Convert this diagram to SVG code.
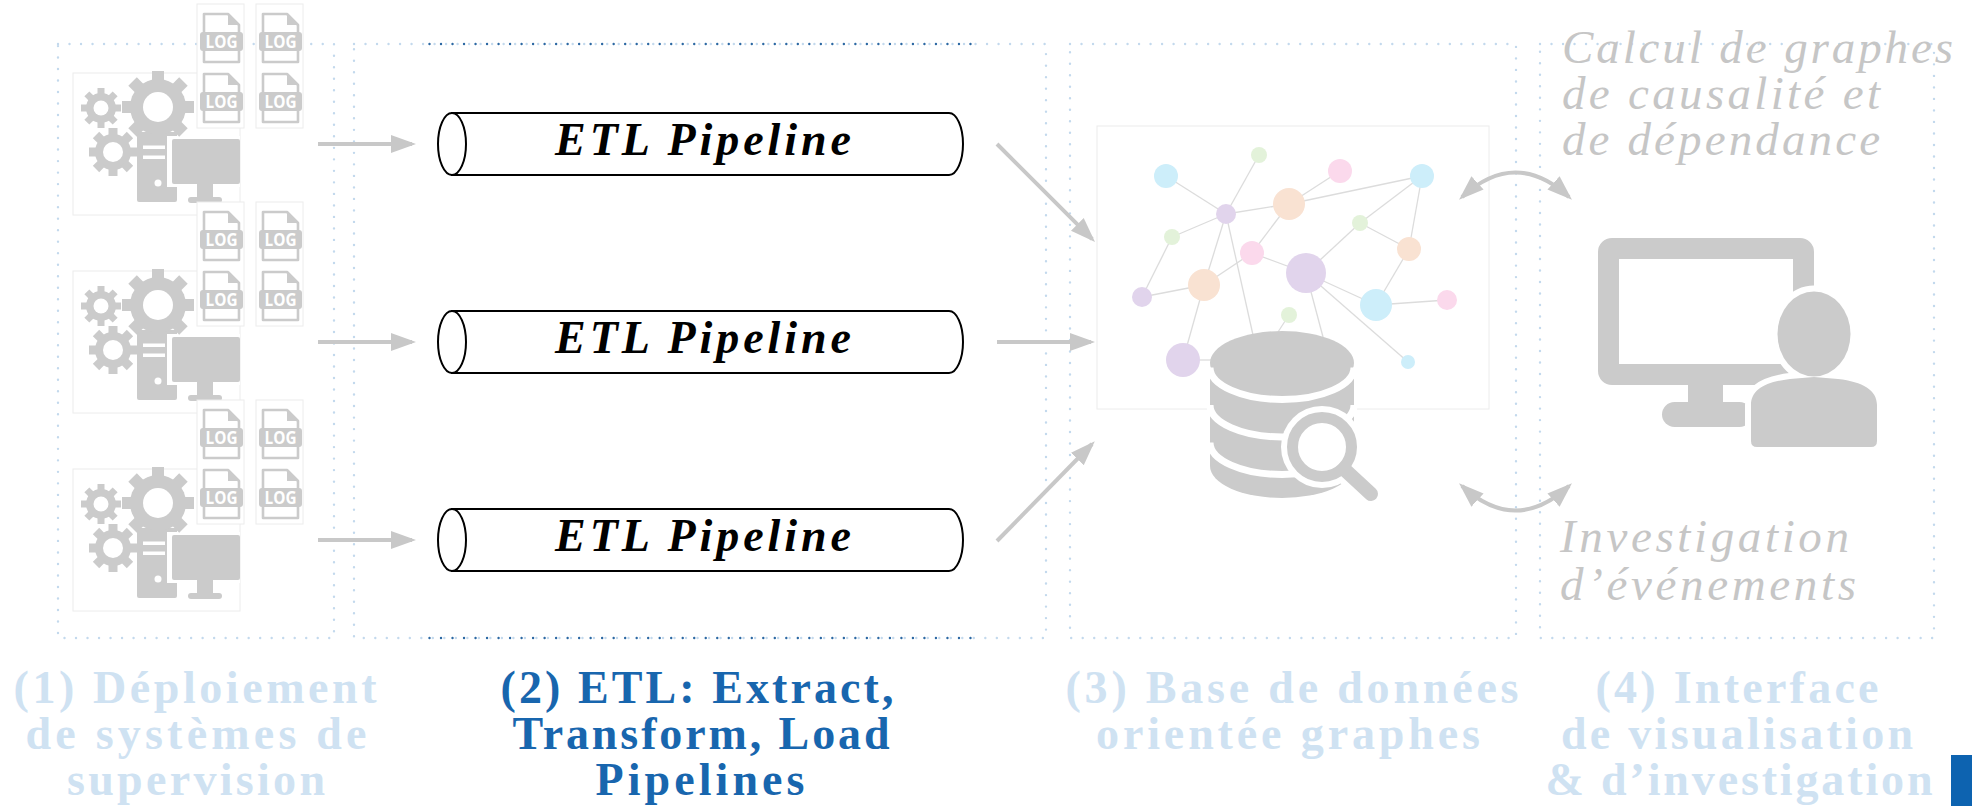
<svg xmlns="http://www.w3.org/2000/svg" xmlns:xlink="http://www.w3.org/1999/xlink" width="1972" height="806" viewBox="0 0 1972 806">
  <defs>
    <style>
      .frame{fill:none;stroke:#c3d9ed;stroke-width:2.4;stroke-dasharray:0.01 11.5;stroke-linecap:round}
      .frame-hi{fill:none;stroke:#2c68a3;stroke-width:2.4;stroke-dasharray:0.01 11.5;stroke-linecap:round}
      .imgbox{fill:#fff;stroke:#ececec;stroke-width:1}
      .ico{fill:#cbcbcb}
      .hole{fill:#fff}
      .arrow{fill:none;stroke:#c8c8c8;stroke-width:4}
      .pipe{fill:#fff;stroke:#000;stroke-width:2}
      .pipe-label{font-family:"Liberation Serif",serif;font-weight:bold;font-style:italic;font-size:46px;text-anchor:middle;fill:#000}
      .step{font-family:"Liberation Serif",serif;font-weight:bold;font-size:46px;text-anchor:middle;fill:#cfe2f2}
      .step.active{fill:#1866ae}
      .note{font-family:"Liberation Serif",serif;font-style:italic;font-size:47px;fill:#c6c6c6}
      .logtxt{font-family:"Open Sans",sans-serif;font-weight:bold;font-size:17px;fill:#fff;text-anchor:middle}
      .edge{stroke:#dcdcdc;stroke-width:1.3}
      .blue{fill:#cdeefa}.green{fill:#e3f2da}.pink{fill:#fbd9ec}.orange{fill:#f9e2d2}.purple{fill:#e1d4ec}
    </style>

    <marker id="head" markerUnits="userSpaceOnUse" viewBox="0 0 25 20" markerWidth="25" markerHeight="20" refX="21" refY="10" orient="auto-start-reverse">
      <path d="M0,1 L25,10 L0,19 Z" fill="#c8c8c8"/>
    </marker>

    <!-- gear shapes, centred on the origin -->
    <g id="gear-l" class="ico">
      <circle r="28"/>
      <rect x="-6" y="-36" width="12" height="12"/>
      <rect x="-6" y="-36" width="12" height="12" transform="rotate(45)"/>
      <rect x="-6" y="-36" width="12" height="12" transform="rotate(90)"/>
      <rect x="-6" y="-36" width="12" height="12" transform="rotate(135)"/>
      <rect x="-6" y="-36" width="12" height="12" transform="rotate(180)"/>
      <rect x="-6" y="-36" width="12" height="12" transform="rotate(225)"/>
      <rect x="-6" y="-36" width="12" height="12" transform="rotate(270)"/>
      <rect x="-6" y="-36" width="12" height="12" transform="rotate(315)"/>
      <circle class="hole" r="15"/>
    </g>
    <g id="gear-m" class="ico">
      <circle r="18"/>
      <rect x="-4.5" y="-24" width="9" height="9"/>
      <rect x="-4.5" y="-24" width="9" height="9" transform="rotate(45)"/>
      <rect x="-4.5" y="-24" width="9" height="9" transform="rotate(90)"/>
      <rect x="-4.5" y="-24" width="9" height="9" transform="rotate(135)"/>
      <rect x="-4.5" y="-24" width="9" height="9" transform="rotate(180)"/>
      <rect x="-4.5" y="-24" width="9" height="9" transform="rotate(225)"/>
      <rect x="-4.5" y="-24" width="9" height="9" transform="rotate(270)"/>
      <rect x="-4.5" y="-24" width="9" height="9" transform="rotate(315)"/>
      <circle class="hole" r="10"/>
    </g>
    <g id="gear-s" class="ico">
      <circle r="15"/>
      <rect x="-3.5" y="-20" width="7" height="8"/>
      <rect x="-3.5" y="-20" width="7" height="8" transform="rotate(45)"/>
      <rect x="-3.5" y="-20" width="7" height="8" transform="rotate(90)"/>
      <rect x="-3.5" y="-20" width="7" height="8" transform="rotate(135)"/>
      <rect x="-3.5" y="-20" width="7" height="8" transform="rotate(180)"/>
      <rect x="-3.5" y="-20" width="7" height="8" transform="rotate(225)"/>
      <rect x="-3.5" y="-20" width="7" height="8" transform="rotate(270)"/>
      <rect x="-3.5" y="-20" width="7" height="8" transform="rotate(315)"/>
      <circle class="hole" r="7.5"/>
    </g>

    <!-- log file icon, origin at the page's top-left corner -->
    <g id="log">
      <path d="M0,0 H24 L35,11 V48 H0 Z" fill="#fff" stroke="#cbcbcb" stroke-width="2.6" stroke-linejoin="round"/>
      <path d="M24,0 L35,11 H24 Z" fill="#cbcbcb"/>
      <rect x="-4" y="18" width="43" height="19" rx="3" fill="#cbcbcb"/>
      <text class="logtxt" x="17.5" y="34" textLength="32" lengthAdjust="spacingAndGlyphs">LOG</text>
    </g>

    <!-- monitored host: gears, tower, screen and its log files -->
    <g id="host">
      <rect class="imgbox" x="73" y="73" width="167" height="142"/>
      <rect class="imgbox" x="197" y="4" width="47" height="124"/>
      <rect class="imgbox" x="256" y="4" width="47" height="124"/>
      <rect class="ico" x="137" y="132" width="40" height="70" rx="2"/>
      <rect class="hole" x="143" y="145.5" width="22" height="3.5"/>
      <rect class="hole" x="143" y="155.5" width="22" height="3.5"/>
      <circle class="hole" cx="158" cy="183" r="3.5"/>
      <rect class="hole" x="167" y="136" width="73" height="51"/>
      <rect class="ico" x="172" y="139" width="68" height="45" rx="2"/>
      <rect class="ico" x="197" y="184" width="16" height="14"/>
      <rect class="ico" x="188" y="197" width="34" height="6" rx="3"/>
      <use xlink:href="#gear-s" x="101" y="108"/>
      <use xlink:href="#gear-l" x="158" y="107"/>
      <use xlink:href="#gear-m" x="113" y="152"/>
      <use xlink:href="#log" x="204" y="14"/>
      <use xlink:href="#log" x="204" y="74"/>
      <use xlink:href="#log" x="263" y="14"/>
      <use xlink:href="#log" x="263" y="74"/>
    </g>

    <!-- horizontal pipe, centred vertically on y=0 -->
    <g id="pipe">
      <path class="pipe" d="M452,-31 H949 A14,31 0 0 1 949,31 H452 Z"/>
      <ellipse class="pipe" cx="452" cy="0" rx="14" ry="31"/>
    </g>
  </defs>

  <rect width="1972" height="806" fill="#fff"/>

  <!-- stage frames -->
  <g id="stages">
    <rect class="frame" x="58" y="44" width="276" height="594"/>
    <rect class="frame" x="354" y="44" width="692" height="594"/>
    <rect class="frame" x="1070" y="44" width="446" height="594"/>
    <rect class="frame" x="1540" y="44" width="394" height="594"/>
    <path class="frame-hi" d="M429.5,44 H975 M429.5,638 H975"/>
  </g>

  <!-- sources -->
  <g id="source-1"><use xlink:href="#host"/></g>
  <g id="source-2"><use xlink:href="#host" y="198"/></g>
  <g id="source-3"><use xlink:href="#host" y="396"/></g>

  <!-- ETL pipelines -->
  <g id="etl-1">
    <use xlink:href="#pipe" y="144"/>
    <text class="pipe-label" x="703" y="155" textLength="296" lengthAdjust="spacing">ETL Pipeline</text>
  </g>
  <g id="etl-2">
    <use xlink:href="#pipe" y="342"/>
    <text class="pipe-label" x="703" y="353" textLength="296" lengthAdjust="spacing">ETL Pipeline</text>
  </g>
  <g id="etl-3">
    <use xlink:href="#pipe" y="540"/>
    <text class="pipe-label" x="703" y="551" textLength="296" lengthAdjust="spacing">ETL Pipeline</text>
  </g>

  <!-- graph database -->
  <g id="graph-db">
    <rect class="imgbox" x="1097" y="126" width="392" height="283"/>
    <g class="edge">
      <line x1="1166" y1="176" x2="1226" y2="214"/>
      <line x1="1259" y1="155" x2="1226" y2="214"/>
      <line x1="1226" y1="214" x2="1289" y2="204"/>
      <line x1="1226" y1="214" x2="1172" y2="237"/>
      <line x1="1172" y1="237" x2="1142" y2="297"/>
      <line x1="1142" y1="297" x2="1204" y2="285"/>
      <line x1="1204" y1="285" x2="1252" y2="253"/>
      <line x1="1252" y1="253" x2="1289" y2="204"/>
      <line x1="1226" y1="214" x2="1204" y2="285"/>
      <line x1="1226" y1="214" x2="1253" y2="335"/>
      <line x1="1289" y1="204" x2="1340" y2="171"/>
      <line x1="1289" y1="204" x2="1422" y2="176"/>
      <line x1="1422" y1="176" x2="1360" y2="223"/>
      <line x1="1360" y1="223" x2="1409" y2="249"/>
      <line x1="1422" y1="176" x2="1409" y2="249"/>
      <line x1="1360" y1="223" x2="1306" y2="273"/>
      <line x1="1252" y1="253" x2="1306" y2="273"/>
      <line x1="1306" y1="273" x2="1376" y2="305"/>
      <line x1="1409" y1="249" x2="1376" y2="305"/>
      <line x1="1376" y1="305" x2="1447" y2="300"/>
      <line x1="1306" y1="273" x2="1408" y2="362"/>
      <line x1="1306" y1="273" x2="1323" y2="337"/>
      <line x1="1204" y1="285" x2="1183" y2="360"/>
      <line x1="1183" y1="360" x2="1212" y2="360"/>
      <line x1="1289" y1="315" x2="1278" y2="332"/>
    </g>
    <circle class="blue" cx="1166" cy="176" r="12"/>
    <circle class="green" cx="1259" cy="155" r="8"/>
    <circle class="pink" cx="1340" cy="171" r="12"/>
    <circle class="blue" cx="1422" cy="176" r="12"/>
    <circle class="purple" cx="1226" cy="214" r="10"/>
    <circle class="orange" cx="1289" cy="204" r="16"/>
    <circle class="green" cx="1172" cy="237" r="8"/>
    <circle class="green" cx="1360" cy="223" r="8"/>
    <circle class="pink" cx="1252" cy="253" r="12"/>
    <circle class="orange" cx="1409" cy="249" r="12"/>
    <circle class="purple" cx="1306" cy="273" r="20"/>
    <circle class="orange" cx="1204" cy="285" r="16"/>
    <circle class="purple" cx="1142" cy="297" r="10"/>
    <circle class="blue" cx="1376" cy="305" r="16"/>
    <circle class="pink" cx="1447" cy="300" r="10"/>
    <circle class="green" cx="1289" cy="315" r="8"/>
    <circle class="purple" cx="1183" cy="360" r="17"/>
    <circle class="blue" cx="1408" cy="362" r="7"/>
    <!-- database cylinder -->
    <ellipse class="ico" cx="1282" cy="363" rx="72" ry="32"/>
    <path class="ico" d="M1210,371 V466 A72,32 0 0 0 1354,466 V371 Z"/>
    <g fill="none" stroke="#fff" stroke-width="7">
      <path d="M1210,367.5 A72,32 0 0 0 1354,367.5"/>
      <path d="M1210,405 A72,32 0 0 0 1354,405"/>
      <path d="M1210,442.5 A72,32 0 0 0 1354,442.5"/>
    </g>
    <!-- magnifier -->
    <circle cx="1322" cy="447" r="41" fill="#fff"/>
    <line x1="1342" y1="467" x2="1371" y2="494" stroke="#fff" stroke-width="26" stroke-linecap="round"/>
    <circle cx="1322" cy="447" r="29.5" fill="none" stroke="#cbcbcb" stroke-width="11"/>
    <line x1="1344" y1="469" x2="1371" y2="494" stroke="#cbcbcb" stroke-width="14" stroke-linecap="round"/>
  </g>

  <!-- analyst console -->
  <g id="console">
    <path class="ico" fill-rule="evenodd" d="M1612,238 H1800 A14,14 0 0 1 1814,252 V371 A14,14 0 0 1 1800,385 H1612 A14,14 0 0 1 1598,371 V252 A14,14 0 0 1 1612,238 Z M1619,259 V364 H1793 V259 Z"/>
    <rect class="ico" x="1688" y="384" width="35" height="20"/>
    <rect class="ico" x="1662" y="402" width="90" height="25" rx="12.5"/>
    <g fill="#fff" stroke="#fff" stroke-width="12" stroke-linejoin="round">
      <ellipse cx="1814" cy="334" rx="36.5" ry="42.5"/>
      <path d="M1751,447 V405 C1751,390 1765,382 1790,379 L1814,377 L1838,379 C1863,382 1877,390 1877,405 V441 Q1877,447 1871,447 H1757 Q1751,447 1751,441 Z"/>
    </g>
    <g class="ico">
      <ellipse cx="1814" cy="334" rx="36.5" ry="42.5"/>
      <path d="M1751,447 V405 C1751,390 1765,382 1790,379 L1814,377 L1838,379 C1863,382 1877,390 1877,405 V441 Q1877,447 1871,447 H1757 Q1751,447 1751,441 Z"/>
    </g>
  </g>

  <!-- connectors -->
  <g id="connectors" class="arrow">
    <line x1="318" y1="144" x2="412" y2="144" marker-end="url(#head)"/>
    <line x1="318" y1="342" x2="412" y2="342" marker-end="url(#head)"/>
    <line x1="318" y1="540" x2="412" y2="540" marker-end="url(#head)"/>
    <line x1="997" y1="144" x2="1092.2" y2="239.2" marker-end="url(#head)"/>
    <line x1="997" y1="342" x2="1091" y2="342" marker-end="url(#head)"/>
    <line x1="997" y1="541" x2="1092" y2="444" marker-end="url(#head)"/>
    <path d="M1462,197 Q1515.5,148 1569,197" marker-start="url(#head)" marker-end="url(#head)"/>
    <path d="M1462,486 Q1515.5,535 1569,486" marker-start="url(#head)" marker-end="url(#head)"/>
  </g>

  <!-- annotations -->
  <g id="note-compute" class="note">
    <text x="1562" y="63" textLength="391" lengthAdjust="spacing">Calcul de graphes</text>
    <text x="1562" y="109" textLength="318" lengthAdjust="spacing">de causalité et</text>
    <text x="1562" y="155" textLength="318" lengthAdjust="spacing">de dépendance</text>
  </g>
  <g id="note-investigate" class="note">
    <text x="1560" y="552" textLength="289" lengthAdjust="spacing">Investigation</text>
    <text x="1560" y="600" textLength="296" lengthAdjust="spacing">d’événements</text>
  </g>

  <!-- stage captions -->
  <g id="caption-1" class="step">
    <text x="195" y="703" textLength="363" lengthAdjust="spacing">(1) Déploiement</text>
    <text x="196" y="749" textLength="341" lengthAdjust="spacing">de systèmes de</text>
    <text x="196" y="795" textLength="258" lengthAdjust="spacing">supervision</text>
  </g>
  <g id="caption-2" class="step active">
    <text x="697" y="703" textLength="393" lengthAdjust="spacing">(2) ETL: Extract,</text>
    <text x="701" y="749" textLength="377" lengthAdjust="spacing">Transform, Load</text>
    <text x="700" y="795" textLength="209" lengthAdjust="spacing">Pipelines</text>
  </g>
  <g id="caption-3" class="step">
    <text x="1292" y="703" textLength="453" lengthAdjust="spacing">(3) Base de données</text>
    <text x="1288" y="749" textLength="384" lengthAdjust="spacing">orientée graphes</text>
  </g>
  <g id="caption-4" class="step">
    <text x="1737" y="703" textLength="283" lengthAdjust="spacing">(4) Interface</text>
    <text x="1737" y="749" textLength="352" lengthAdjust="spacing">de visualisation</text>
    <text x="1739" y="795" textLength="387" lengthAdjust="spacing">&amp; d’investigation</text>
  </g>

  <rect id="page-marker" x="1951" y="755" width="21" height="51" fill="#0d63b0"/>
</svg>
